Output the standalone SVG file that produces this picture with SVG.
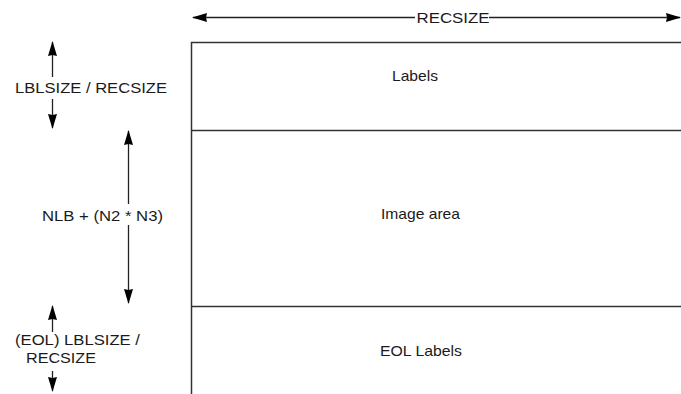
<svg xmlns="http://www.w3.org/2000/svg" width="681" height="394" viewBox="0 0 681 394">
<defs>
<marker id="ah" markerUnits="userSpaceOnUse" markerWidth="15" markerHeight="10" refX="14" refY="5" orient="auto">
<path d="M0,0.5 L15,5 L0,9.5 L1,5 z" fill="#000"/>
</marker>
</defs>
<style>
text{font-family:"Liberation Sans",Arial,sans-serif;font-size:15px;fill:#1a1a1a}
.ln{stroke:#222;stroke-width:1.3;fill:none}
.box{stroke:#333;stroke-width:1.5;fill:none}
</style>
<rect width="681" height="394" fill="#fff"/>
<g id="record">
<path class="box" d="M191.5,394 V42.5 H681"/>
<line class="box" x1="191" y1="130.5" x2="681" y2="130.5"/>
<line class="box" x1="191" y1="306.5" x2="681" y2="306.5"/>
</g>
<g id="labels-area"><text x="415" y="81" text-anchor="middle" textLength="46" lengthAdjust="spacingAndGlyphs">Labels</text></g>
<g id="image-area"><text x="420.5" y="219" text-anchor="middle" textLength="79" lengthAdjust="spacingAndGlyphs">Image area</text></g>
<g id="eol-labels"><text x="421" y="356" text-anchor="middle" textLength="82" lengthAdjust="spacingAndGlyphs">EOL Labels</text></g>
<g id="recsize-label"><text x="453" y="22.5" text-anchor="middle" textLength="73" lengthAdjust="spacingAndGlyphs">RECSIZE</text></g>
<g id="lblsize-label"><text x="91" y="93" text-anchor="middle" textLength="152" lengthAdjust="spacingAndGlyphs">LBLSIZE / RECSIZE</text></g>
<g id="nlb-label"><text x="102.5" y="221" text-anchor="middle" textLength="121" lengthAdjust="spacingAndGlyphs">NLB + (N2 * N3)</text></g>
<g id="eol-size-label">
<text x="15" y="345" textLength="125" lengthAdjust="spacingAndGlyphs">(EOL) LBLSIZE /</text>
<text x="26" y="363" textLength="70" lengthAdjust="spacingAndGlyphs">RECSIZE</text>
</g>
<g id="connectors">
<line class="ln" x1="415" y1="17.5" x2="193" y2="17.5" marker-end="url(#ah)"/>
<line class="ln" x1="489" y1="17.5" x2="680" y2="17.5" marker-end="url(#ah)"/>
<line class="ln" x1="52.5" y1="77" x2="52.5" y2="42" marker-end="url(#ah)"/>
<line class="ln" x1="52.5" y1="99" x2="52.5" y2="128" marker-end="url(#ah)"/>
<line class="ln" x1="128.5" y1="204" x2="128.5" y2="131" marker-end="url(#ah)"/>
<line class="ln" x1="128.5" y1="225" x2="128.5" y2="303" marker-end="url(#ah)"/>
<line class="ln" x1="52.5" y1="332" x2="52.5" y2="306" marker-end="url(#ah)"/>
<line class="ln" x1="52.5" y1="371" x2="52.5" y2="391" marker-end="url(#ah)"/>
</g>
</svg>
